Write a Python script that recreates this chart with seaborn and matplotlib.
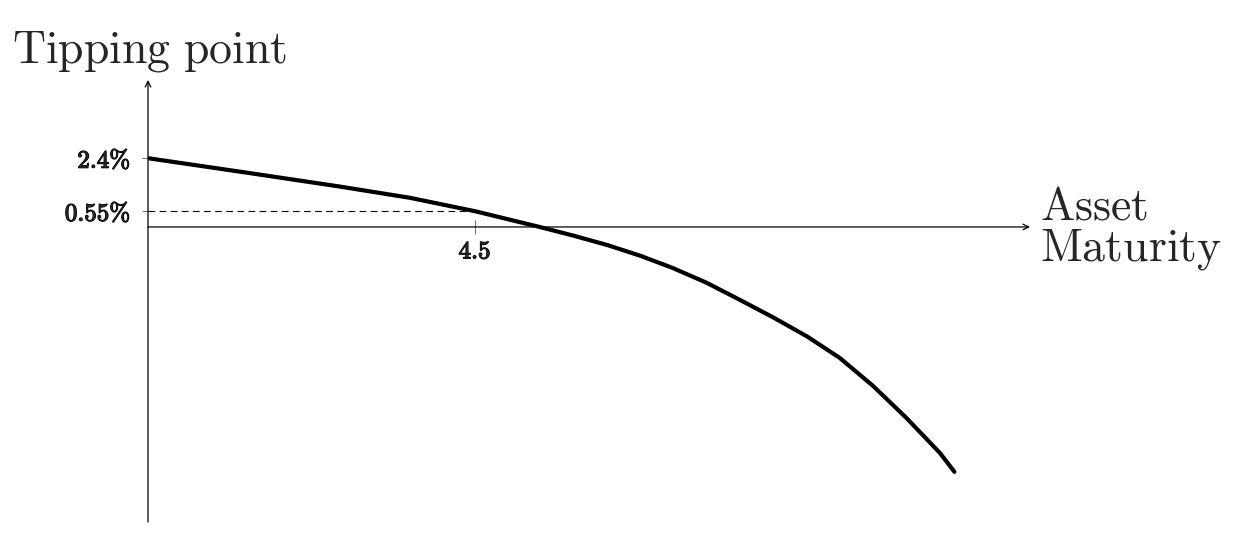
import numpy as np
import pandas as pd
import matplotlib.pyplot as plt
import matplotlib.patheffects as pe
import seaborn as sns

# tipping point (%) against asset maturity
maturity = [0.0, 1.40, 2.64, 3.60, 4.5, 5.39, 5.85, 6.32, 6.77, 7.22, 7.69, 8.15,
            8.60, 9.07, 9.52, 9.98, 10.44, 10.90, 11.10]
tipping = [2.4, 1.88, 1.41, 1.02, 0.55, 0.0, -0.30, -0.63, -1.00, -1.43, -1.95, -2.55,
           -3.15, -3.82, -4.57, -5.55, -6.67, -7.89, -8.55]

# marked points
x_ticks = [4.5]
x_tick_labels = [r'$\mathbf{4.5}$']
y_ticks = [2.4, 0.55]
y_tick_labels = [r'$\mathbf{2.4\%}$', r'$\mathbf{0.55\%}$']

x_lim = (0, 12.14)
y_lim = (-10.3, 5.13)

sns.set_style("white")
plt.rcParams['mathtext.fontset'] = 'cm'

df = pd.DataFrame({'maturity': maturity, 'tipping': tipping})

fig = plt.figure(figsize=(12.4, 5.53), dpi=100)
ax = fig.add_axes([148 / 1240, 1 - 522 / 553, 882 / 1240, 442 / 553])

sns.lineplot(data=df, x='maturity', y='tipping', color='black', linewidth=3.0, ax=ax)

# dashed guide to the 0.55% level
ax.plot([0, x_ticks[0]], [y_ticks[1], y_ticks[1]], color='black', linewidth=0.8, linestyle=(0, (6, 4)))

ax.set_xlim(*x_lim)
ax.set_ylim(*y_lim)
ax.spines['bottom'].set_position(('data', 0))
for s in ax.spines.values():
    s.set_visible(False)

# axes drawn as arrows through the origin
ax.annotate('', xy=(x_lim[1], 0), xytext=(0, 0),
            arrowprops=dict(arrowstyle='->', color='black', lw=0.9, shrinkA=0, shrinkB=0))
ax.annotate('', xy=(0, y_lim[1]), xytext=(0, y_lim[0]),
            arrowprops=dict(arrowstyle='->', color='black', lw=0.9, shrinkA=0, shrinkB=0))

bold = [pe.withStroke(linewidth=0.9, foreground='black')]

ax.set_yticks(y_ticks)
ax.set_yticklabels(y_tick_labels)
ax.tick_params(axis='y', direction='out', length=4.5, width=0.6, pad=8, left=True,
               color='#555555', labelsize=18)

ax.set_xticks(x_ticks)
ax.set_xticklabels(x_tick_labels)
ax.tick_params(axis='x', direction='inout', length=10, width=0.6, pad=4, bottom=True,
               color='#555555', labelsize=18)

for lab in ax.get_xticklabels() + ax.get_yticklabels():
    lab.set_path_effects(bold)

ax.set_xlabel('')
ax.set_ylabel('')

fig.text(12 / 1240, 1 - 63 / 553, r'$\mathrm{Tipping\ point}$', fontsize=33, va='baseline', ha='left')
fig.text(1040 / 1240, 1 - 219 / 553, r'$\mathrm{Asset}$', fontsize=33, va='baseline', ha='left')
fig.text(1040 / 1240, 1 - 260 / 553, r'$\mathrm{Maturity}$', fontsize=33, va='baseline', ha='left')

fig.savefig('out.png', dpi=100)
